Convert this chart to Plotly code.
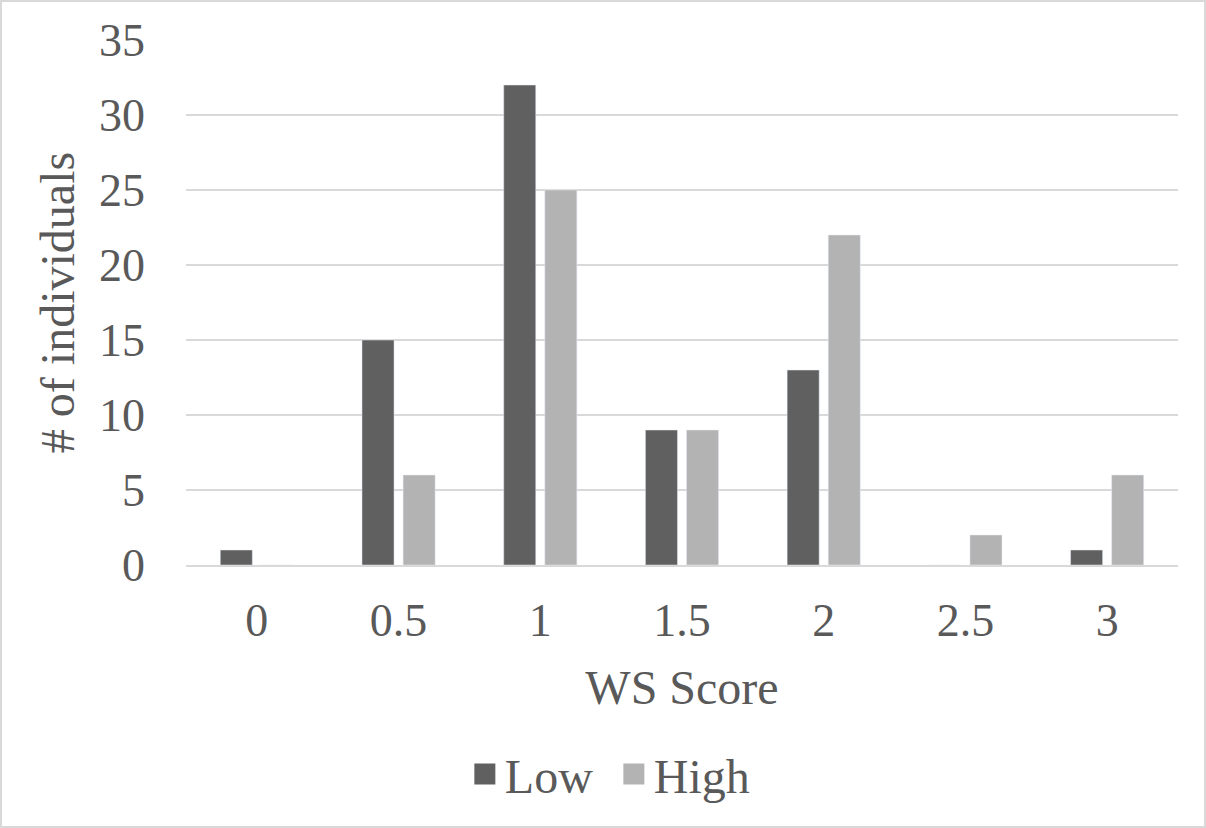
import plotly.graph_objects as go

categories = ["0", "0.5", "1", "1.5", "2", "2.5", "3"]
low_values = [1, 15, 32, 9, 13, 0, 1]
high_values = [0, 6, 25, 9, 22, 2, 6]
y_ticks = [0, 5, 10, 15, 20, 25, 30, 35]
series_names = ["Low", "High"]
series_colors = ["#606060", "#b3b3b3"]

FONT = "Liberation Serif, Times New Roman, serif"
TXT = "#595959"
GRID = "#d9d9d9"

fig = go.Figure()
for name, vals, col in zip(series_names, [low_values, high_values], series_colors):
    fig.add_trace(go.Bar(name=name, x=categories, y=vals, marker_color=col,
                         showlegend=False, legendgroup=name))
# legend entries with larger square swatches
for name, col in zip(series_names, series_colors):
    fig.add_trace(go.Scatter(name=name, x=[None], y=[None], mode="markers",
                             marker=dict(symbol="square", size=16, color=col,
                                         line=dict(color=col, width=5)),
                             legendgroup=name, showlegend=True))

W, H = 1206, 828
L, R, T, B = 186, 28, 40, 263
pw, ph = W - L - R, H - T - B

fig.update_layout(
    width=W, height=H,
    margin=dict(l=L, r=R, t=T, b=B, autoexpand=False),
    paper_bgcolor="white", plot_bgcolor="white",
    font=dict(family=FONT, size=46, color=TXT),
    barmode="group", bargap=0.42, bargroupgap=0.22,
    showlegend=True,
    legend=dict(orientation="h", xref="container", x=0.509, xanchor="center",
                yref="container", y=0.065, yanchor="middle",
                font=dict(family=FONT, size=48, color=TXT),
                itemwidth=30, entrywidth=104, tracegroupgap=0,
                itemsizing="trace", bgcolor="rgba(0,0,0,0)"),
    xaxis=dict(type="category", categoryorder="array", categoryarray=categories,
               showgrid=False, showline=True, linecolor=GRID, linewidth=2,
               ticks="", ticklabelstandoff=14,
               title=dict(text="WS Score", standoff=25, font=dict(size=48, color=TXT))),
    yaxis=dict(range=[0, 35], tickvals=y_ticks, showgrid=True, gridcolor=GRID,
               gridwidth=1.5, zeroline=False, showline=False, ticks="",
               ticklabelstandoff=40,
               title=dict(text="# of individuals", standoff=9, font=dict(size=48, color=TXT))),
    shapes=[dict(type="rect", xref="paper", yref="paper",
                 x0=(1 - L) / pw, x1=(W - 1 - L) / pw,
                 y0=(T + ph - (H - 1)) / ph, y1=(T + ph - 1) / ph,
                 line=dict(color=GRID, width=2), fillcolor="rgba(0,0,0,0)", layer="below")],
)

fig.write_html("out.html")
